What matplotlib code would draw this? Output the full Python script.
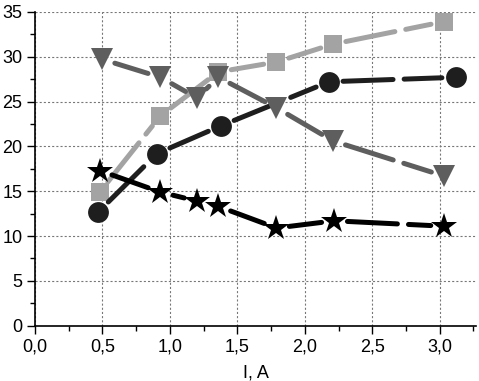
import numpy as np
import matplotlib
matplotlib.use("Agg")
import matplotlib.pyplot as plt

plt.rcParams['font.family'] = ['Liberation Sans', 'DejaVu Sans']
plt.rcParams['lines.scale_dashes'] = False

# data
i_sq = [0.48, 0.93, 1.36, 1.79, 2.21, 3.03]
v_sq = [14.9, 23.4, 28.3, 29.4, 31.4, 33.9]

i_circ = [0.47, 0.905, 1.38, 2.18, 3.12]
v_circ = [12.7, 19.2, 22.3, 27.2, 27.7]

i_tri = [0.50, 0.93, 1.20, 1.36, 1.79, 2.21, 3.03]
v_tri = [29.7, 27.7, 25.4, 27.7, 24.3, 20.6, 16.7]

i_star = [0.48, 0.93, 1.20, 1.36, 1.79, 2.22, 3.03]
v_star = [17.3, 14.9, 13.9, 13.3, 10.9, 11.7, 11.1]

x_ticks = [0.0, 0.5, 1.0, 1.5, 2.0, 2.5, 3.0]
x_labels = ['0,0', '0,5', '1,0', '1,5', '2,0', '2,5', '3,0']
y_ticks = [0, 5, 10, 15, 20, 25, 30, 35]

fig = plt.figure(figsize=(4.79, 3.81), dpi=100)
ax = fig.add_axes([0.073, 0.145, 0.921, 0.824])
ax.set_xlim(0, 3.27)
ax.set_ylim(0, 35)

ax.set_xticks(x_ticks, x_labels)
ax.set_yticks(y_ticks)
ax.set_xticks(np.arange(0.25, 3.3, 0.5), minor=True)
ax.set_yticks(np.arange(2.5, 35, 5), minor=True)
ax.tick_params(which='major', direction='out', length=6, width=1, labelsize=13, pad=3)
ax.tick_params(which='minor', direction='out', length=3.5, width=1)
for s in ['top', 'right']:
    ax.spines[s].set_visible(False)
for s in ['left', 'bottom']:
    ax.spines[s].set_linewidth(1.2)
ax.grid(True, which='major', linestyle=(0, (1.5, 1.5)), color='#777777', linewidth=0.8)
ax.set_axisbelow(True)
ax.set_xlabel('I, A', fontsize=13, labelpad=7)


def draw(xs, ys, color, marker, ms, gap, z):
    pts = ax.transData.transform(np.column_stack([xs, ys]))
    inv = ax.transData.inverted()
    for a, b in zip(pts[:-1], pts[1:]):
        d = b - a
        n = np.hypot(*d)
        if n <= 2 * gap:
            continue
        u = d / n
        seg = inv.transform(np.array([a + u * gap, b - u * gap]))
        ax.plot(seg[:, 0], seg[:, 1], color=color, lw=3.6,
                dashes=(36, 8), dash_capstyle='round', zorder=z)
    ax.plot(xs, ys, linestyle='none', marker=marker, ms=ms, color=color,
            markeredgewidth=0, zorder=z + 0.5)


draw(i_sq, v_sq, '#a3a3a3', 's', 12.5, 13, 3)
draw(i_circ, v_circ, '#1e1e1e', 'o', 15, 14, 4)
draw(i_tri, v_tri, '#5e5e5e', 'v', 15.5, 13, 5)
draw(i_star, v_star, '#000000', '*', 19, 13, 6)

fig.savefig('out.png', dpi=100)
